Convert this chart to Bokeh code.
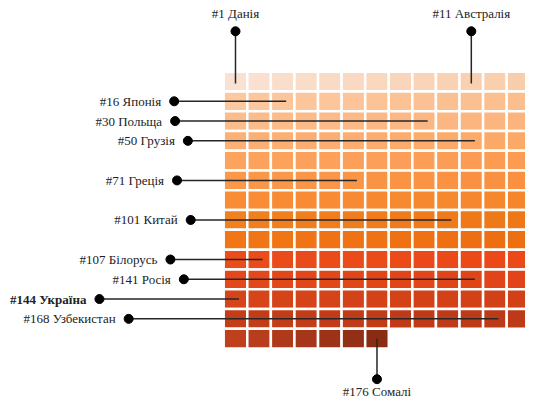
from bokeh.plotting import figure
from bokeh.models import Range1d, ColumnDataSource
from bokeh.embed import file_html
from bokeh.resources import INLINE
from bokeh.core.properties import value

# ---------------- data ----------------
total_countries = 176
n_cols = 13

label_rank = [1, 11, 16, 30, 50, 71, 101, 107, 141, 144, 168, 176]
label_name = ["Данія", "Австралія", "Японія", "Польща", "Грузія", "Греція",
              "Китай", "Білорусь", "Росія", "Україна", "Узбекистан", "Сомалі"]
label_side = ["top", "top", "left", "left", "left", "left",
              "left", "left", "left", "left", "left", "bottom"]
label_bold = [False, False, False, False, False, False,
              False, False, False, True, False, False]
# grid cell (row, column) that each pointer line reaches, as drawn
pointer_row = [1, 1, 2, 3, 4, 6, 8, 10, 11, 12, 13, 14]
pointer_col = [1, 11, 3, 9, 11, 6, 10, 2, 11, 1, 12, 7]

# colour anchors (rank -> colour), style
color_anchor_rank = [1, 13, 14, 26, 27, 39, 40, 52, 53, 65, 66, 78, 79, 91,
                     92, 104, 105, 117, 118, 130, 131, 143, 144, 156, 157, 169,
                     170, 176]
color_anchor_hex = ["#f9e2d3", "#f9cdaa", "#fcc8a0", "#fbbe8e", "#fbbd8c", "#fbb47e",
                    "#fcb076", "#fca866", "#fca35e", "#fc9b52", "#fb984a", "#fa9040",
                    "#f98d36", "#f5862c", "#f2801e", "#ee7818", "#f07616", "#ee6e12",
                    "#ea4c1a", "#ec4818", "#e2481a", "#e04418", "#d64419", "#d24018",
                    "#c43c18", "#bc3a18", "#c0401e", "#8a2c14"]

# ---------------- layout (annotation placement, column/row units) ----------------
left_dot_x = {16: -2.10, 30: -2.06, 50: -1.52, 71: -1.98, 101: -1.40,
              107: -2.26, 141: -1.69, 144: -5.27, 168: -4.03}
top_dot_y = -2.04
top_text_y = -2.92
bottom_dot_y = 15.55
bottom_text_y = 15.78


def hex2rgb(h):
    h = h.lstrip("#")
    return tuple(int(h[i:i + 2], 16) for i in (0, 2, 4))


def rank_color(r):
    for i in range(len(color_anchor_rank) - 1):
        a, b = color_anchor_rank[i], color_anchor_rank[i + 1]
        if a <= r <= b:
            t = 0 if b == a else (r - a) / (b - a)
            c1, c2 = hex2rgb(color_anchor_hex[i]), hex2rgb(color_anchor_hex[i + 1])
            c = [round(c1[k] + (c2[k] - c1[k]) * t) for k in range(3)]
            return "#%02x%02x%02x" % tuple(c)
    return color_anchor_hex[-1]


ranks = list(range(1, total_countries + 1))
cell_x = [(r - 1) % n_cols + 0.5 for r in ranks]
cell_y = [(r - 1) // n_cols + 0.5 for r in ranks]
cell_c = [rank_color(r) for r in ranks]

p = figure(width=525, height=399, min_border=0, toolbar_location=None,
           output_backend="svg",
           x_range=Range1d(-9.465, 12.798), y_range=Range1d(16.578, -3.597),
           x_axis_location=None, y_axis_location=None)
p.grid.visible = False
p.outline_line_color = None
p.background_fill_color = "white"

p.rect(x=cell_x, y=cell_y, width=1, height=1, fill_color=cell_c,
       line_color="white", line_width=2.5)

FONT = value("Liberation Serif")
FS = "13px"
seg = dict(x0=[], y0=[], x1=[], y1=[])
dots = dict(x=[], y=[])
for rk, nm, side, bold, pr, pc in zip(label_rank, label_name, label_side,
                                      label_bold, pointer_row, pointer_col):
    txt = "#%d %s" % (rk, nm)
    cx, cy = pc - 0.5, pr - 0.5
    if side == "left":
        dx = left_dot_x[rk]
        seg["x0"].append(dx); seg["y0"].append(cy)
        seg["x1"].append(cx + 0.15); seg["y1"].append(cy)
        dots["x"].append(dx); dots["y"].append(cy)
        p.text(x=[dx], y=[cy], text=[txt], text_font=FONT, text_font_size=FS,
               text_font_style="bold" if bold else "normal",
               text_align="right", text_baseline="middle", x_offset=-13,
               text_color="#222222")
    elif side == "top":
        seg["x0"].append(cx); seg["y0"].append(top_dot_y)
        seg["x1"].append(cx); seg["y1"].append(cy + 0.1)
        dots["x"].append(cx); dots["y"].append(top_dot_y)
        p.text(x=[cx], y=[top_text_y], text=[txt], text_font=FONT, text_font_size=FS,
               text_align="center", text_baseline="middle", text_color="#222222")
    else:
        seg["x0"].append(cx); seg["y0"].append(bottom_dot_y)
        seg["x1"].append(cx); seg["y1"].append(cy)
        dots["x"].append(cx); dots["y"].append(bottom_dot_y)
        p.text(x=[cx], y=[bottom_text_y], text=[txt], text_font=FONT, text_font_size=FS,
               text_align="center", text_baseline="top", text_color="#222222")

p.segment(source=ColumnDataSource(seg), x0="x0", y0="y0", x1="x1", y1="y1",
          line_color="#262626", line_width=1.5)
p.scatter(source=ColumnDataSource(dots), x="x", y="y", size=9,
          fill_color="black", line_color="black")

open("out.html", "w").write(file_html(p, INLINE))
